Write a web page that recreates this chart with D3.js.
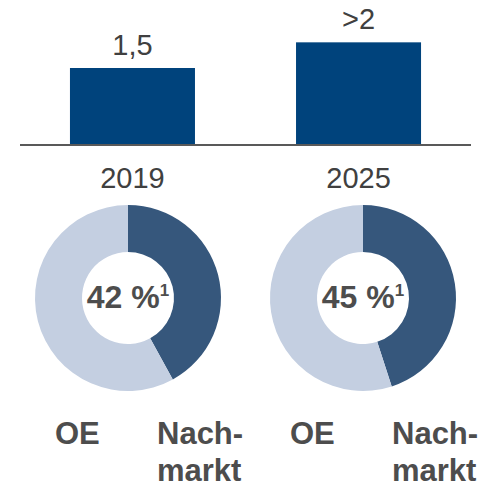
<!DOCTYPE html>
<html>
<head>
<meta charset="utf-8">
<script src="https://cdn.jsdelivr.net/npm/d3@7"></script>
<style>
  body { margin: 0; background: #fff; }
  text { font-family: Arial, "Liberation Sans", sans-serif; }
</style>
</head>
<body>
<div id="chart"></div>
<script>
// data
let years = ["2019", "2025"];
let volumes = [1.5, 2.0];
let volumeLabels = ["1,5", ">2"];
let shares = [42, 45];          // Nachmarkt share in %
let shareLabels = ["42 %", "45 %"];
let segmentLabels = ["OE", "Nach-|markt"];

let width = 487, height = 488;

let svg = d3.select("#chart")
    .append("svg")
    .attr("width", width)
    .attr("height", height);

// bars
let baseline = 145;

let x = d3.scaleBand()
    .domain(years)
    .range([20, 471])
    .paddingInner(0.447)
    .paddingOuter(0.221);

let y = d3.scaleLinear()
    .domain([0, 1.5])
    .range([baseline, 68]);

let bars = years.map((d, i) => ({ year: d, value: volumes[i], label: volumeLabels[i] }));

svg.selectAll("rect.bar")
    .data(bars)
    .enter()
    .append("rect")
    .attr("class", "bar")
    .attr("x", d => x(d.year))
    .attr("y", d => y(d.value))
    .attr("width", x.bandwidth())
    .attr("height", d => baseline - y(d.value))
    .attr("fill", "#00437C");

svg.append("line")
    .attr("x1", 20)
    .attr("x2", 471)
    .attr("y1", baseline)
    .attr("y2", baseline)
    .attr("stroke", "#595959")
    .attr("stroke-width", 2);

svg.selectAll("text.value")
    .data(bars)
    .enter()
    .append("text")
    .attr("class", "value")
    .attr("x", d => x(d.year) + x.bandwidth() / 2)
    .attr("y", d => y(d.value) - 13)
    .style("text-anchor", "middle")
    .style("font-size", "29px")
    .attr("fill", "#404040")
    .text(d => d.label);

svg.selectAll("text.year")
    .data(bars)
    .enter()
    .append("text")
    .attr("class", "year")
    .attr("x", d => x(d.year) + x.bandwidth() / 2)
    .attr("y", 188)
    .style("text-anchor", "middle")
    .style("font-size", "29px")
    .attr("fill", "#404040")
    .text(d => d.year);

// donuts
let cx = d3.scalePoint()
    .domain(years)
    .range([128, 363]);
let cy = 298;

let pie = d3.pie().sort(null).value(d => d);
let arc = d3.arc().innerRadius(46).outerRadius(93);
let colors = ["#36577C", "#C4CFE1"];

years.forEach(function(yr, i) {
    let g = svg.append("g")
        .attr("transform", `translate(${cx(yr)}, ${cy})`);

    g.selectAll("path")
        .data(pie([shares[i], 100 - shares[i]]))
        .enter()
        .append("path")
        .attr("d", arc)
        .attr("fill", (d, j) => colors[j]);

    let t = g.append("text")
        .attr("x", 0)
        .attr("y", 10)
        .style("text-anchor", "middle")
        .style("font-size", "32px")
        .style("font-weight", "bold")
        .attr("fill", "#4D4D4D");
    t.append("tspan").text(shareLabels[i]);
    t.append("tspan")
        .attr("dy", -12)
        .style("font-size", "17px")
        .text("1");

    // segment labels
    g.append("text")
        .attr("x", -73)
        .attr("y", 146)
        .style("font-size", "31px")
        .style("font-weight", "bold")
        .attr("fill", "#4D4D4D")
        .text(segmentLabels[0]);

    let nm = g.append("text")
        .attr("x", 29)
        .attr("y", 146)
        .style("font-size", "31px")
        .style("font-weight", "bold")
        .attr("fill", "#4D4D4D");
    segmentLabels[1].split("|").forEach(function(part, k) {
        nm.append("tspan")
            .attr("x", 29)
            .attr("dy", k == 0 ? 0 : 37)
            .text(part);
    });
});
</script>
</body>
</html>
